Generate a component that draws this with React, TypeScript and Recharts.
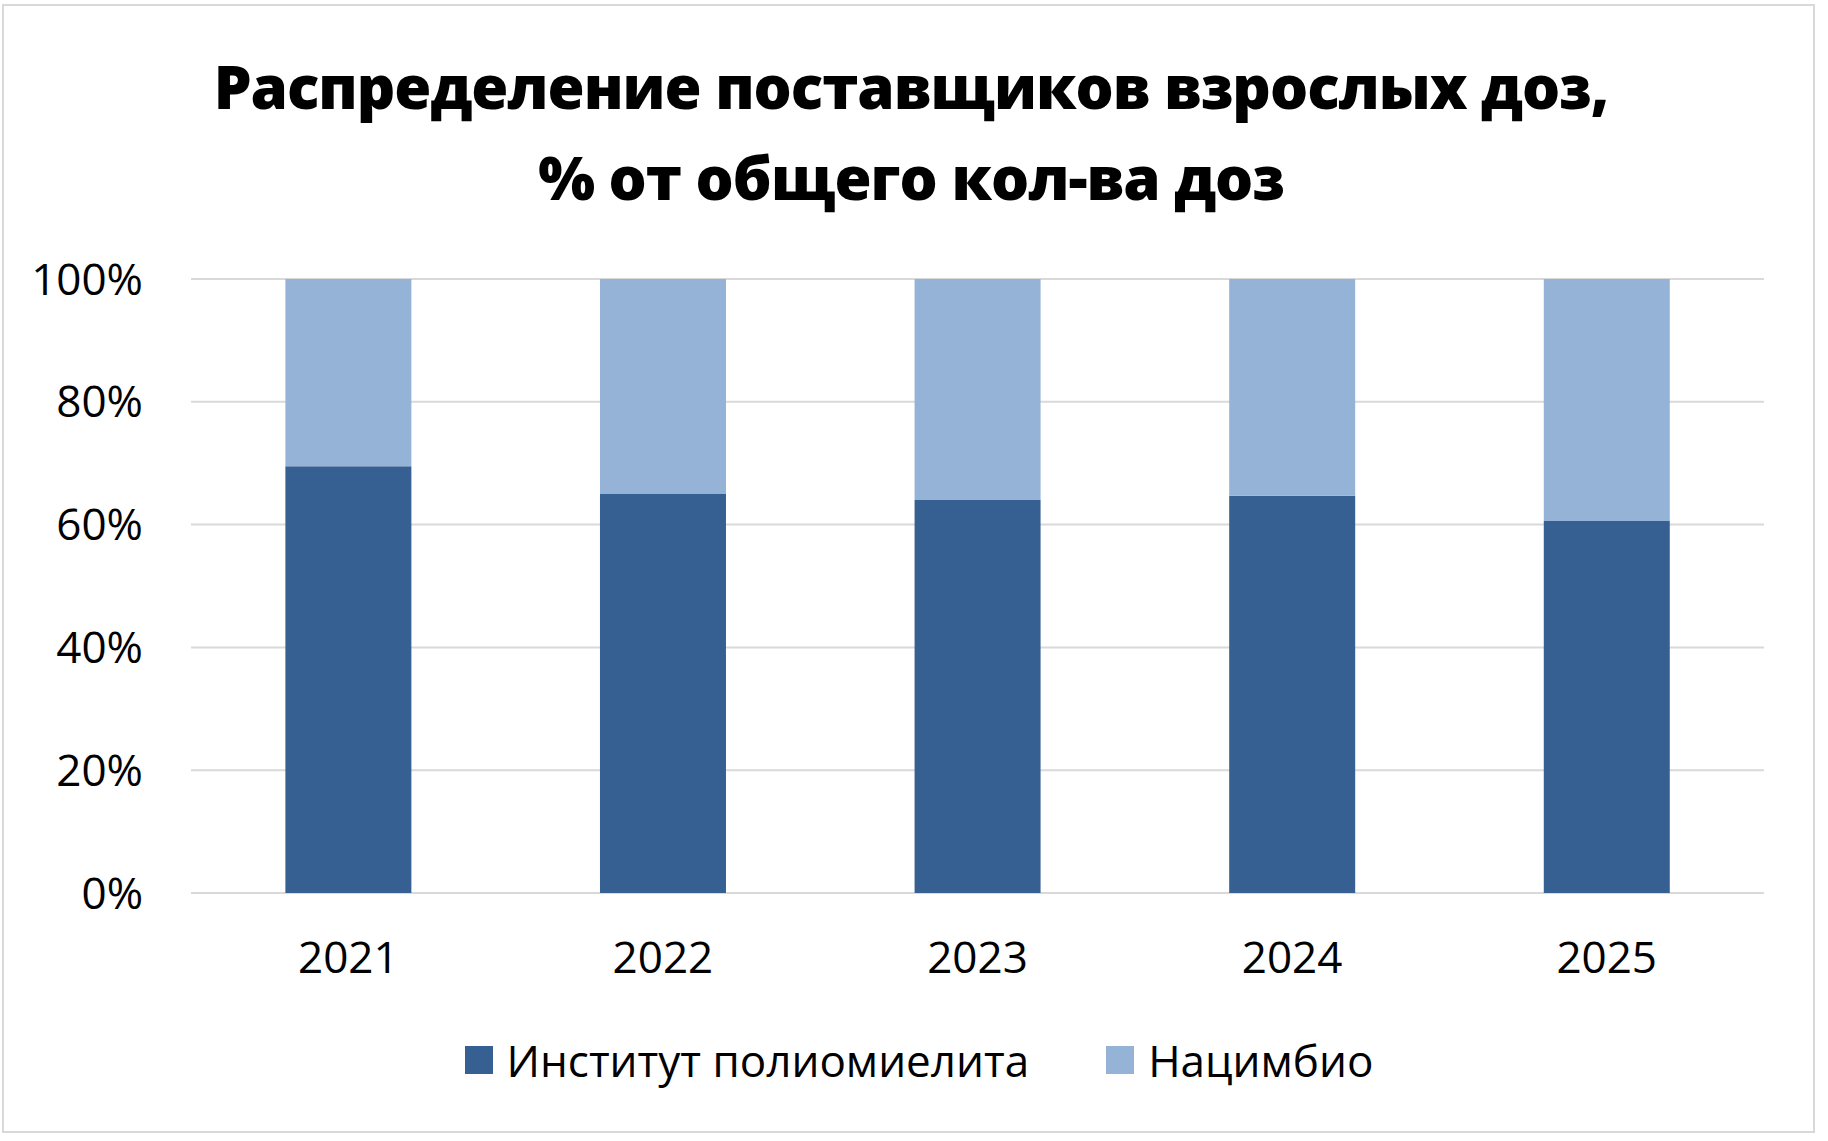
import { BarChart, Bar, XAxis, YAxis, CartesianGrid } from 'recharts';

const years = ['2021', '2022', '2023', '2024', '2025'];
const polioInstitute = [69.5, 65.0, 64.0, 64.7, 60.6];
const natsimbio = [30.5, 35.0, 36.0, 35.3, 39.4];
const yTicks = [0, 20, 40, 60, 80, 100];

const seriesNames = ['Институт полиомиелита', 'Нацимбио'];
const DARK = '#376092';
const LIGHT = '#95b3d7';
const FONT = '"Open Sans", sans-serif';

const data = years.map((year, i) => ({
  year,
  polio: polioInstitute[i],
  nats: natsimbio[i],
}));

export default function App() {
  return (
    <div style={{ position: 'absolute', left: 0, top: 0, width: 1828, height: 1141, background: '#fff', fontFamily: FONT }}>
      <div
        style={{
          position: 'absolute',
          left: 2,
          top: 4,
          width: 1813,
          height: 1129,
          border: '2px solid #d9d9d9',
          boxSizing: 'border-box',
        }}
      />
      <div
        style={{
          position: 'absolute',
          left: 0,
          top: 41,
          width: 1822,
          textAlign: 'center',
          fontSize: 60,
          fontWeight: 800,
          letterSpacing: '-1px',
          lineHeight: '91px',
          color: '#000',
        }}
      >
        Распределение поставщиков взрослых доз,
        <br />% от общего кол-ва доз
      </div>
      <div style={{ position: 'absolute', left: 0, top: 0 }}>
        <BarChart
          width={1828}
          height={1141}
          data={data}
          margin={{ top: 279, right: 64, left: 0, bottom: 218 }}
          barCategoryGap="30%"
        >
          <CartesianGrid vertical={false} stroke="#d9d9d9" strokeWidth={2} />
          <XAxis
            dataKey="year"
            axisLine={false}
            tickLine={false}
            tickMargin={43}
            tick={{ fill: '#000', fontSize: 44, fontFamily: FONT }}
          />
          <YAxis
            width={191}
            domain={[0, 100]}
            ticks={yTicks}
            axisLine={false}
            tickLine={false}
            tickMargin={42}
            tickFormatter={(v) => `${v}%`}
            tick={{ fill: '#000', fontSize: 44, fontFamily: FONT }}
          />
          <Bar dataKey="polio" name={seriesNames[0]} stackId="a" fill={DARK} isAnimationActive={false} />
          <Bar dataKey="nats" name={seriesNames[1]} stackId="a" fill={LIGHT} isAnimationActive={false} />
        </BarChart>
      </div>
      <div
        style={{
          position: 'absolute',
          left: 0,
          top: 1030,
          width: 1838,
          display: 'flex',
          justifyContent: 'center',
          alignItems: 'center',
          fontSize: 44,
          color: '#000',
        }}
      >
        {seriesNames.map((name, i) => (
          <div key={name} style={{ display: 'flex', alignItems: 'center', marginRight: i === 0 ? 77 : 0 }}>
            <span style={{ width: 28, height: 28, background: i === 0 ? DARK : LIGHT, marginRight: 14 }} />
            <span>{name}</span>
          </div>
        ))}
      </div>
    </div>
  );
}
